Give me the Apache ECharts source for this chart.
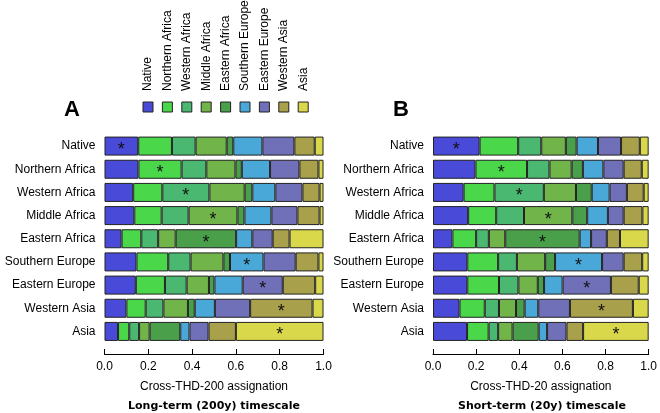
<!DOCTYPE html>
<html>
<head>
<meta charset="utf-8">
<script src="https://cdn.jsdelivr.net/npm/echarts@6/dist/echarts.min.js"></script>
<style>html,body{margin:0;padding:0;background:#fff}#c{width:660px;height:413px}</style>
</head>
<body>
<div id="c"></div>
<script>
var categories = ['Native','Northern Africa','Western Africa','Middle Africa','Eastern Africa','Southern Europe','Eastern Europe','Western Asia','Asia'];
var colors = ['#4a4ad8','#4ad84a','#4ab870','#70b44a','#4aa04a','#4aa8d8','#7070b8','#a8a04a','#d8d84a'];
var xTicks = [0, 0.2, 0.4, 0.6, 0.8, 1.0];

// rows = origin region, columns = assigned region (same order as categories)
var longNative   = [0.154,0.154,0.108,0.142,0.030,0.133,0.146,0.093,0.040];
var longNAfrica  = [0.155,0.197,0.113,0.133,0.029,0.129,0.134,0.087,0.023];
var longWAfrica  = [0.131,0.133,0.215,0.161,0.035,0.105,0.124,0.078,0.018];
var longMAfrica  = [0.136,0.125,0.123,0.223,0.032,0.123,0.119,0.101,0.018];
var longEAfrica  = [0.078,0.090,0.077,0.080,0.276,0.074,0.093,0.077,0.155];
var longSEurope  = [0.146,0.145,0.102,0.150,0.030,0.153,0.147,0.104,0.023];
var longEEurope  = [0.143,0.133,0.099,0.102,0.025,0.129,0.183,0.148,0.038];
var longWAsia    = [0.100,0.088,0.081,0.112,0.031,0.092,0.161,0.285,0.050];
var longAsia     = [0.062,0.051,0.045,0.048,0.140,0.042,0.087,0.125,0.400];

var shortNative  = [0.216,0.179,0.107,0.114,0.050,0.099,0.107,0.087,0.041];
var shortNAfrica = [0.197,0.239,0.104,0.103,0.052,0.095,0.094,0.084,0.032];
var shortWAfrica = [0.142,0.143,0.229,0.149,0.073,0.083,0.080,0.078,0.023];
var shortMAfrica = [0.163,0.130,0.129,0.224,0.069,0.096,0.073,0.087,0.029];
var shortEAfrica = [0.090,0.110,0.059,0.076,0.345,0.053,0.073,0.061,0.133];
var shortSEurope = [0.159,0.143,0.087,0.131,0.046,0.218,0.100,0.086,0.030];
var shortEEurope = [0.159,0.147,0.090,0.090,0.029,0.086,0.224,0.129,0.046];
var shortWAsia   = [0.123,0.117,0.066,0.079,0.040,0.063,0.147,0.292,0.073];
var shortAsia    = [0.158,0.100,0.044,0.067,0.121,0.039,0.090,0.077,0.304];

var longRows  = [longNative,longNAfrica,longWAfrica,longMAfrica,longEAfrica,longSEurope,longEEurope,longWAsia,longAsia];
var shortRows = [shortNative,shortNAfrica,shortWAfrica,shortMAfrica,shortEAfrica,shortSEurope,shortEEurope,shortWAsia,shortAsia];

var FONT = '"Liberation Sans", Arial, sans-serif';
var BFONT = '"DejaVu Sans", Verdana, sans-serif';

function makeSeries(rows, idx, stack) {
  return categories.map(function (name, j) {
    return {
      type: 'bar', name: name, stack: stack,
      xAxisIndex: idx, yAxisIndex: idx,
      barWidth: 19,
      itemStyle: { color: colors[j], borderColor: '#222', borderWidth: 1 },
      emphasis: { disabled: true },
      data: rows.map(function (r, i) {
        var d = { value: r[j] };
        if (i === j) {
          d.label = { show: true, position: 'inside', formatter: '*', fontSize: 18, color: '#111', fontFamily: FONT, offset: [0, 4] };
        }
        return d;
      })
    };
  });
}

function xAxis(idx, name) {
  return {
    type: 'value', gridIndex: idx, min: 0, max: 1, interval: 0.2, offset: 11,
    name: name, nameLocation: 'middle', nameGap: 27,
    nameTextStyle: { fontFamily: FONT, fontSize: 12, color: '#000' },
    axisLine: { show: true, lineStyle: { color: '#000', width: 1 } },
    axisTick: { show: true, inside: true, length: 5, lineStyle: { color: '#000' } },
    axisLabel: { fontFamily: FONT, fontSize: 12, color: '#000', margin: 7, formatter: function (v) { return v.toFixed(1); } },
    splitLine: { show: false }
  };
}
function yAxis(idx) {
  return {
    type: 'category', gridIndex: idx, data: categories, inverse: true,
    axisLine: { show: false }, axisTick: { show: false },
    axisLabel: { fontFamily: FONT, fontSize: 12, color: '#000', margin: 9 }
  };
}

var graphics = [];
categories.forEach(function (name, j) {
  var cx = 148 + j * 19.4;
  graphics.push({ type: 'rect', shape: { x: cx - 5, y: 102, width: 10, height: 10 },
    style: { fill: colors[j], stroke: '#222', lineWidth: 1 } });
  graphics.push({ type: 'text', x: cx, y: 91, rotation: Math.PI / 2,
    style: { text: name, fontFamily: FONT, fontSize: 12, fill: '#000', textAlign: 'left', textVerticalAlign: 'middle' } });
});
graphics.push({ type: 'text', x: 72, y: 110, style: { text: 'A', fontFamily: FONT, fontWeight: 'bold', fontSize: 22, fill: '#000', textAlign: 'center', textVerticalAlign: 'middle' } });
graphics.push({ type: 'text', x: 401, y: 110, style: { text: 'B', fontFamily: FONT, fontWeight: 'bold', fontSize: 22, fill: '#000', textAlign: 'center', textVerticalAlign: 'middle' } });
graphics.push({ type: 'text', x: 214, y: 406, style: { text: 'Long-term (200y) timescale', fontFamily: BFONT, fontWeight: 'bold', fontSize: 11, fill: '#000', textAlign: 'center', textVerticalAlign: 'middle' } });
graphics.push({ type: 'text', x: 542, y: 406, style: { text: 'Short-term (20y) timescale', fontFamily: BFONT, fontWeight: 'bold', fontSize: 11, fill: '#000', textAlign: 'center', textVerticalAlign: 'middle' } });

var chart = echarts.init(document.getElementById('c'), null, { renderer: 'canvas' });
chart.setOption({
  animation: false,
  backgroundColor: '#fff',
  grid: [
    { left: 104.5, right: 336.5, top: 134.5, bottom: 70 },
    { left: 433, right: 8.5, top: 134.5, bottom: 70 }
  ],
  xAxis: [xAxis(0, 'Cross-THD-200 assignation'), xAxis(1, 'Cross-THD-20 assignation')],
  yAxis: [yAxis(0), yAxis(1)],
  series: makeSeries(longRows, 0, 'A').concat(makeSeries(shortRows, 1, 'B')),
  graphic: graphics
});
</script>
</body>
</html>
